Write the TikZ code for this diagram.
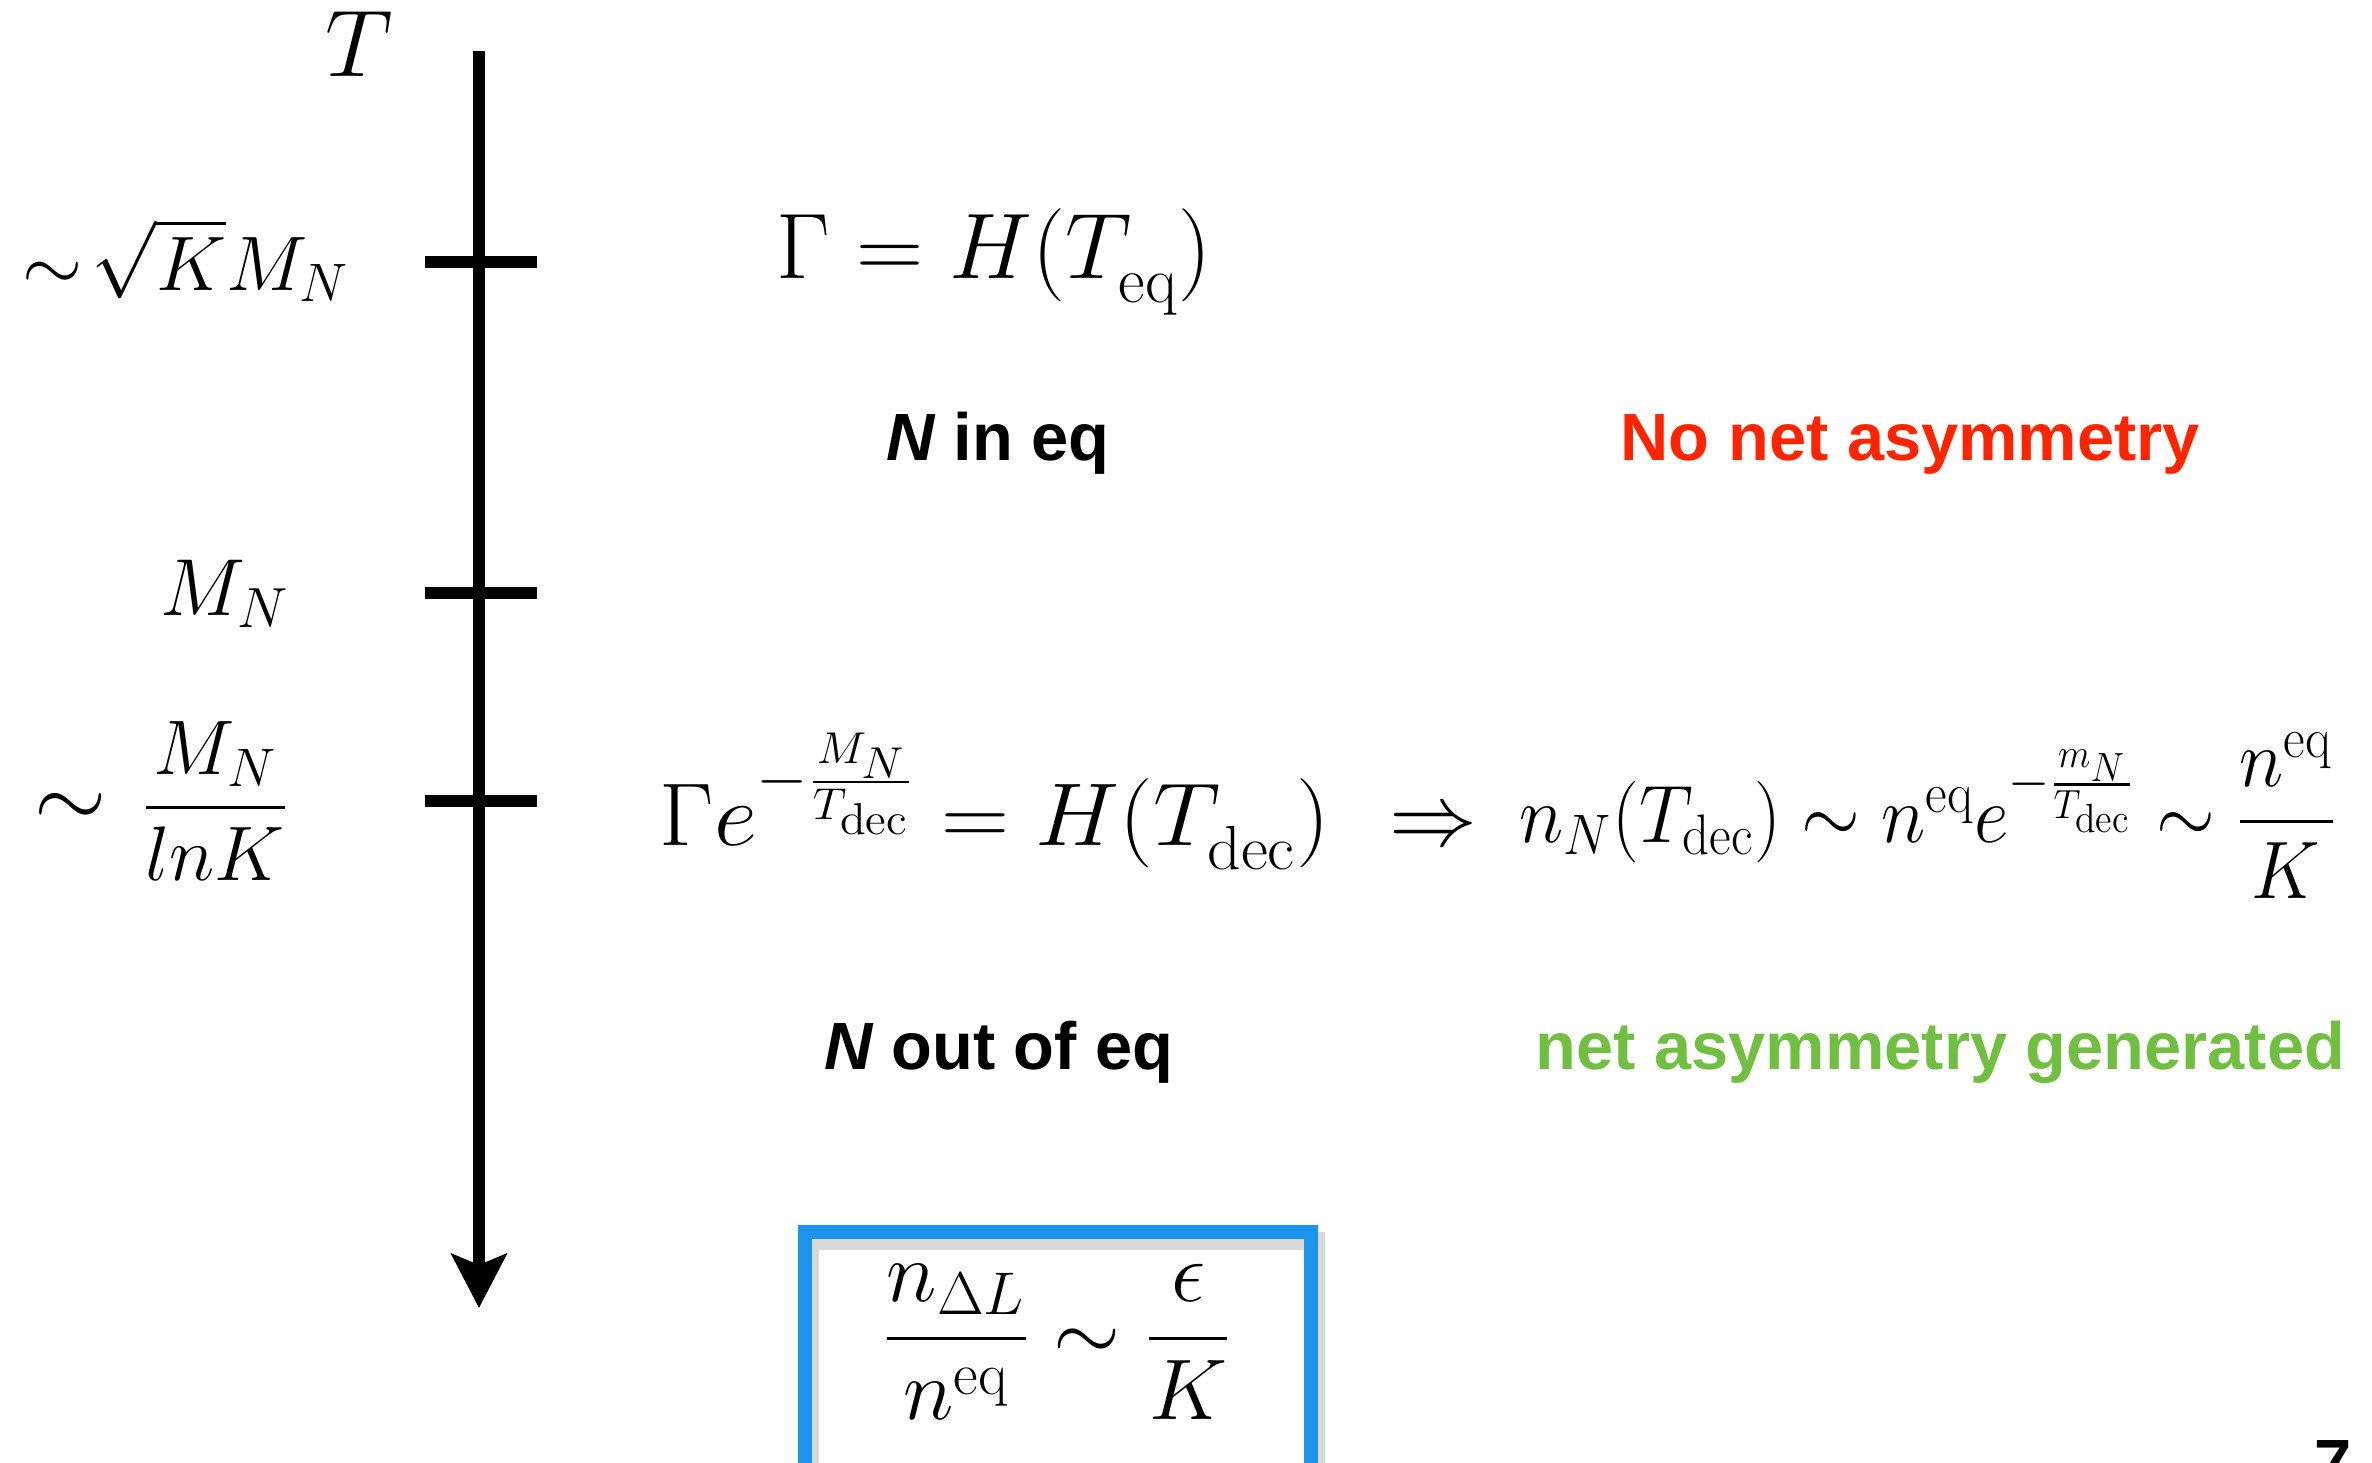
\RequirePackage{fix-cm}
\documentclass[tikz,border=0pt]{standalone}
\usepackage{amsmath}
\usepackage{fontspec}
\usepackage{graphicx}
\usepackage{tikz}
\usetikzlibrary{arrows.meta}

\newfontfamily\notefont{Liberation Sans}
\definecolor{noasym}{RGB}{255,36,0}
\definecolor{genasym}{RGB}{112,191,65}
\definecolor{boxblue}{RGB}{28,148,236}

\tikzset{
  mlabel/.style={inner sep=0pt, font=\fontsize{23}{27}\selectfont},
  eqn/.style={inner sep=0pt, font=\fontsize{25}{30}\selectfont},
  note/.style={inner sep=0pt, font=\notefont\bfseries\fontsize{19}{23}\selectfont},
  tick/.style={line width=3.4pt},
}

\begin{document}
\begin{tikzpicture}[x=0.01cm, y=-0.01cm]
            \useasboundingbox (0,0) rectangle (2372,1462);
            % Temperature axis
            \coordinate (top) at (479,51);
            \coordinate (bot) at (479,1308);
            \draw[line width=3.4pt, -{Stealth[length=0.54cm, width=0.55cm, inset=0.11cm]}] (top) -- (bot);
            \node[mlabel, font=\fontsize{27}{32}\selectfont, anchor=base west] (tlab) at (325,76) {$T$};

            % Ticks
            \coordinate (k1a) at (425,262); \coordinate (k1b) at (537,262);
            \coordinate (k2a) at (425,593); \coordinate (k2b) at (537,593);
            \coordinate (k3a) at (425,801); \coordinate (k3b) at (537,801);
            \draw[tick] (k1a) -- (k1b);
            \draw[tick] (k2a) -- (k2b);
            \draw[tick] (k3a) -- (k3b);

            % Tick labels
            \node[mlabel, font=\fontsize{22}{26}\selectfont, anchor=base east] (lsq) at (350,290) {$\sim\!\sqrt{K}M_N$};
            \node[mlabel, anchor=base east] (lmn) at (290,615) {$M_N$};
            \node[mlabel, font=\fontsize{22}{26}\selectfont, anchor=east] (lln) at (290,801)
              {\scalebox{1.2}{$\sim$}\hspace{0.45em}$\dfrac{M_N}{lnK}$};

            % Equilibrium condition
            \node[eqn, font=\fontsize{26.5}{31}\selectfont, anchor=base west] (eq) at (776,278)
              {$\Gamma = H(T_{\lower3pt\hbox{$\scriptstyle\mathrm{eq}$}})$};
            \node[note, anchor=base west] (ineq) at (886,460) {{\itshape N} in eq};
            \node[note, anchor=base west, text=noasym] (noasym) at (1620,460) {No net asymmetry};

            % Decoupling
            \node[eqn, anchor=base west] (dec) at (659,845)
              {\resizebox{6.70cm}{1.12cm}{$\Gamma e^{-\frac{M_N}{T_{\mathrm{dec}}}} = H(T_{\lower3pt\hbox{$\scriptstyle\mathrm{dec}$}})$}};
            \node[eqn, anchor=base west] (impl) at (1389,845) {$\Rightarrow$};
            \node[eqn, anchor=base west] (ndec) at (1519,842)
              {\resizebox{8.16cm}{1.10cm}{$n_N(T_{\mathrm{dec}})\sim n^{\mathrm{eq}}e^{-\frac{m_N}{T_{\mathrm{dec}}}}\sim\dfrac{n^{\mathrm{eq}}}{K}$}};
            \node[note, anchor=base west] (outeq) at (824,1069) {{\itshape N} out of eq};
            \node[note, anchor=base west, text=genasym] (gen) at (1535,1069) {net asymmetry generated};

            % Result box
            \coordinate (bx1) at (805,1232);
            \coordinate (bx2) at (1311,1480);
            \draw[line width=5pt, black!25, opacity=0.6] ([shift={(5,9)}]bx1) rectangle ([shift={(5,9)}]bx2);
            \draw[line width=3.8pt, boxblue] (bx1) rectangle (bx2);
            \node[mlabel, font=\fontsize{24.5}{29}\selectfont, anchor=center] (ratio) at (1057,1342)
              {$\dfrac{n_{\Delta L}}{n^{\mathrm{eq}}}\sim\dfrac{\epsilon}{K}$};

            % Slide number
            \node[note, anchor=base west] (page) at (2314,1486) {7};
\end{tikzpicture}
\end{document}
